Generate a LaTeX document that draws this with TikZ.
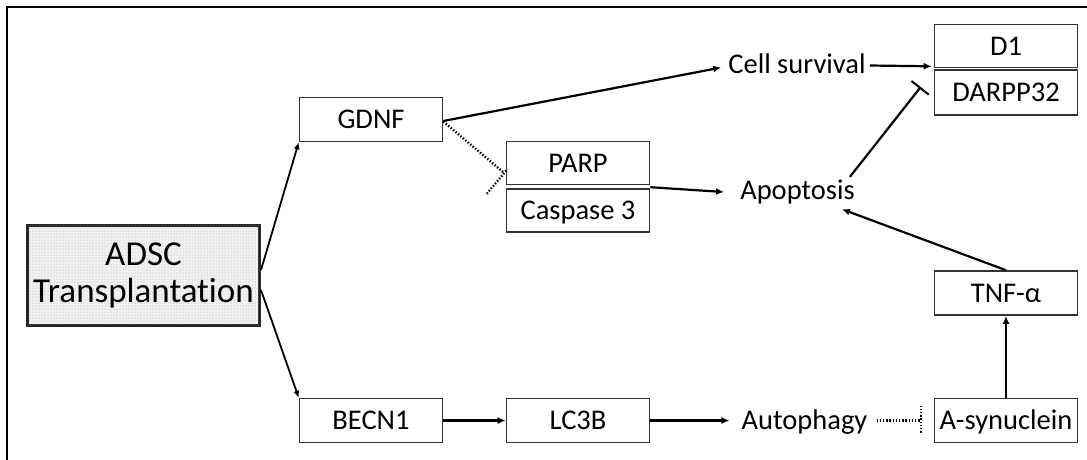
\documentclass[tikz,border=0pt]{standalone}
\usepackage{fontspec}
\setmainfont{Carlito}[Ligatures=NoCommon]
\usetikzlibrary{arrows.meta,patterns}
\tikzset{
  bx/.style={draw=black!80, line width=1.6pt, fill=white, minimum width=143pt, minimum height=44pt, inner sep=0pt,
    font=\fontsize{28.5}{30}\selectfont, text height=18pt, text depth=0pt, text=black},
  lbl/.style={inner sep=0pt, font=\fontsize{28.5}{30}\selectfont, text height=18pt, text depth=0pt, text=black},
  arr/.style={line width=2.2pt, -{Latex[length=8pt,width=7pt]}},
  thinarr/.style={line width=1.8pt, -{Latex[length=7pt,width=6pt]}},
  inh/.style={line width=2.2pt, -{Bar[width=22pt,line width=2pt]}},
  dots/.style={line width=2.4pt, dash pattern=on 1.4pt off 1.8pt},
}
\begin{document}
\begin{tikzpicture}[x=1pt,y=-1pt]
\useasboundingbox (0,0) rectangle (1087,459);
\draw[line width=2.8pt, line join=miter] (7,460) -- (7,7) -- (1088,7);

\node[draw=black!85, line width=3pt, fill=gray!10, postaction={pattern=dots, pattern color=gray!70},
      minimum width=232pt, minimum height=100pt, inner sep=0pt, align=center,
      font=\fontsize{35}{37}\selectfont, text=black] (adsc) at (143.5,275) {ADSC\\Transplantation};

\node[bx] (gdnf) at (371,119.5) {GDNF};
\node[bx] (becn) at (371,420.5) {BECN1};
\node[bx, minimum height=43pt] (parp) at (578,163) {PARP};
\node[bx, minimum height=43pt] (casp) at (578,210.5) {Caspase 3};
\node[bx] (lc3b) at (578,420.5) {LC3B};
\node[bx, minimum height=43pt] (d1) at (1006,46) {D1};
\node[bx, minimum height=45pt] (darpp) at (1006,92.5) {DARPP32};
\node[bx] (tnf) at (1006,293) {TNF-α};
\node[bx] (asyn) at (1006,420.5) {A-synuclein};

\node[lbl] (cell) at (797,64.5) {Cell survival};
\node[lbl] (apop) at (797.5,190) {Apoptosis};
\node[lbl] (auto) at (804.5,420.5) {Autophagy};

% connectors (yshift is in canvas direction: positive = up)
\draw[thinarr] ([yshift=5pt]adsc.east) -- (gdnf.south west);
\draw[thinarr] ([yshift=-15pt]adsc.east) -- (becn.north west);
\draw[arr] ([yshift=-1.5pt]gdnf.east) -- ([xshift=-7pt,yshift=-3pt]cell.west);
\draw[arr] ([xshift=4pt,yshift=-1pt]cell.east) -- ([xshift=-2pt,yshift=2pt]d1.south west);
\draw[arr] ([yshift=1pt]casp.north east) -- ([xshift=-16pt,yshift=-2pt]apop.west);
\draw[inh] ([xshift=-5pt,yshift=4pt]apop.north east) -- ([xshift=-13pt,yshift=5.5pt]darpp.west);
\draw[arr] (tnf.north) -- ([xshift=-13pt,yshift=-10pt]apop.south east);
\draw[arr] (asyn.north) -- (tnf.south);
\draw[arr] (becn.east) -- (lc3b.west);
\draw[arr] (lc3b.east) -- ([xshift=-12pt]auto.west);

% dotted inhibitions
\draw[dots] ([yshift=-2pt]gdnf.east) -- ([xshift=-1.5pt,yshift=-10pt]parp.west);
\draw[dots] ([xshift=-18.9pt,yshift=-30.7pt]parp.west) -- ([xshift=1.7pt,yshift=-6.2pt]parp.west);
\draw[dots] ([xshift=9pt]auto.east) -- ([xshift=-13pt]asyn.west);
\draw[dots] ([xshift=-13pt,yshift=15pt]asyn.west) -- ([xshift=-13pt,yshift=-13pt]asyn.west);
\end{tikzpicture}
\end{document}
